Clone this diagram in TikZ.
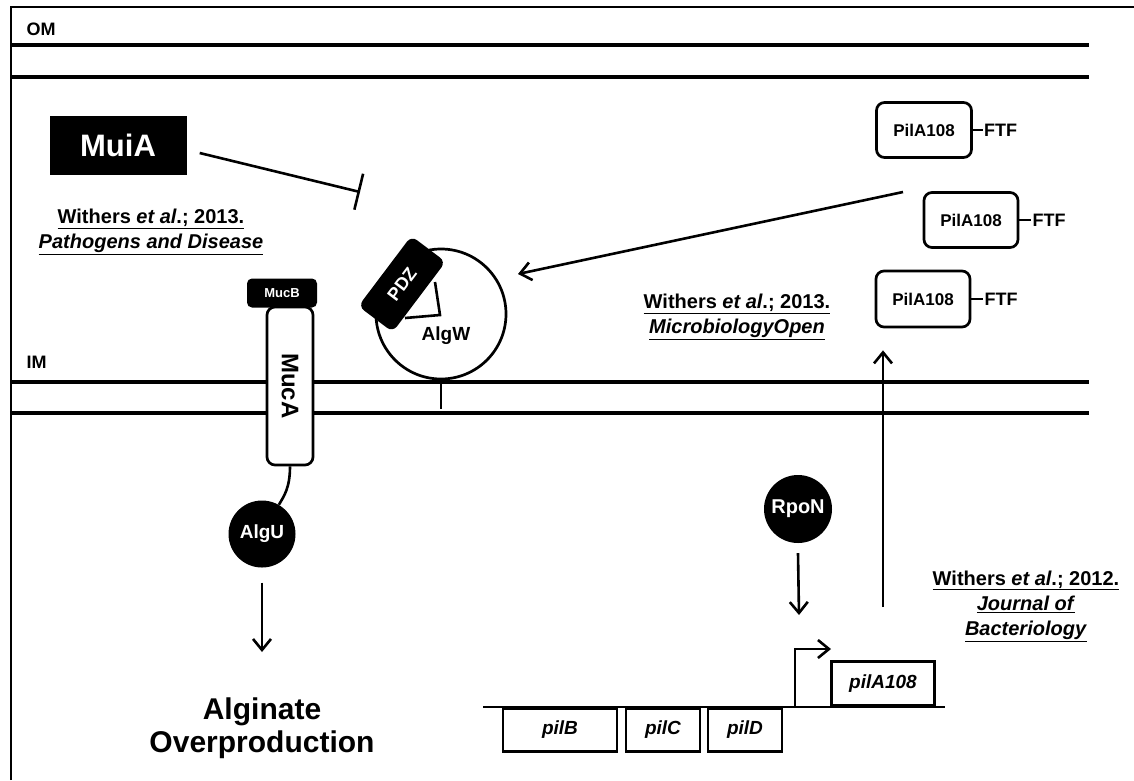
\documentclass[tikz,border=0pt]{standalone}
\usepackage{fontspec}
\setmainfont{Liberation Sans}
\usetikzlibrary{arrows.meta,positioning,calc}
\tikzset{
  membrane/.style={line width=3.2pt},
  blackbox/.style={fill=black, text=white, inner sep=0pt},
  protein/.style={draw=black, fill=white, line width=2.7pt, rounded corners=8pt, inner sep=0pt},
  gene/.style={draw=black, fill=white, line width=2.7pt, inner sep=0pt,
    minimum height=43pt, font=\fontsize{19}{22}\selectfont\bfseries\itshape},
  factor/.style={circle, fill=black, text=white, inner sep=0pt},
  act/.style={-{Straight Barb[length=11pt,width=18pt]}, line width=2.6pt},
  inhib/.style={-{Bar[width=37pt]}, line width=2.6pt},
  cite/.style={align=center, font=\fontsize{20}{25}\selectfont\bfseries},
  tag/.style={font=\fontsize{18}{20}\selectfont\bfseries, inner sep=1pt}
}
\newcommand{\membrane}[1]{\draw[membrane] (10,#1) -- (1089,#1);}

\begin{document}
\begin{tikzpicture}[x=1pt, y=-1pt]
  \useasboundingbox (0,0) rectangle (1134,780);
  % frame and membranes
  \draw[line width=2.7pt] (11,780) -- (11,7) -- (1134,7);
  \membrane{45}
  \membrane{77}
  \membrane{382}
  \membrane{413}
  \node[anchor=west, font=\fontsize{18}{20}\selectfont\bfseries] (om) at (23,29) {OM};
  \node[anchor=west, font=\fontsize{18}{20}\selectfont\bfseries] (im) at (23,362) {IM};

  % MuiA and AlgW
  \node[blackbox, minimum width=137pt, minimum height=59pt,
        font=\fontsize{31}{34}\selectfont\bfseries] (muia) at (118,145) {MuiA};
  \coordinate (muiabar) at (360,192);
  \draw[inhib] ([xshift=13pt,yshift=-8pt]muia.east) -- (muiabar);
  \node[cite] (cite1) at (151,232)
    {\underline{Withers \textit{et al}.; 2013.}\\\underline{\textit{Pathogens and Disease}}};

  \node[draw, circle, line width=2.7pt, minimum size=130pt, inner sep=0pt] (algw) at (441,314) {};
  \draw[line width=2.6pt] (435,282) -- (440,315) -- (405,318);
  \node[blackbox, rounded corners=7pt, minimum width=88pt, minimum height=43pt, rotate=53,
        font=\fontsize{18}{20}\selectfont\bfseries] (pdz) at (402,284) {PDZ};
  \node[font=\fontsize{19}{22}\selectfont\bfseries] (algwlab) at (446,336) {AlgW};
  \coordinate (algwfoot) at (441,409);
  \draw[line width=2.6pt] (algw.south) -- (algwfoot);

  % MucA / MucB / AlgU
  \node[protein, rotate=-90, minimum width=158pt, minimum height=46pt,
        font=\fontsize{24}{26}\selectfont\bfseries] (muca) at (290,386) {MucA};
  \node[blackbox, rounded corners=5pt, minimum width=70pt, minimum height=29pt,
        font=\fontsize{13}{15}\selectfont\bfseries] (mucb) at (282,293) {MucB};
  \node[factor, minimum size=67pt, font=\fontsize{19}{22}\selectfont\bfseries] (algu) at (262,534) {AlgU};
  \draw[line width=2.6pt] (muca.east) .. controls (290,488) and (284,496) .. (algu.60);
  \node[align=center, font=\fontsize{30}{33}\selectfont\bfseries] (alginate) at (262,728)
    {Alginate\\Overproduction};
  \coordinate (algutip) at (262,652);
  \draw[act] ([yshift=-15pt]algu.south) -- (algutip);

  % PilA108 glycosylated pilins
  \node[protein, minimum width=95pt, minimum height=55pt,
        font=\fontsize{17}{20}\selectfont\bfseries] (pila1) at (924,130) {PilA108};
  \node[protein, minimum width=94pt, minimum height=55pt,
        font=\fontsize{17}{20}\selectfont\bfseries] (pila2) at (971,220) {PilA108};
  \node[protein, minimum width=94pt, minimum height=56pt,
        font=\fontsize{17}{20}\selectfont\bfseries] (pila3) at (923,299) {PilA108};
  \node[tag, anchor=west] (ftf1) at ([xshift=10pt]pila1.east) {FTF};
  \node[tag, anchor=west] (ftf2) at ([xshift=12pt]pila2.east) {FTF};
  \node[tag, anchor=west] (ftf3) at ([xshift=12pt]pila3.east) {FTF};
  \foreach \i in {1,2,3}
    \draw[line width=2.6pt] (pila\i.east) -- (ftf\i.west);
  \coordinate (pilastart) at (903,192);
  \coordinate (algwtip) at (518,274);
  \draw[act] (pilastart) -- (algwtip);
  \node[cite] (cite2) at (737,317)
    {\underline{Withers \textit{et al}.; 2013.}\\\underline{\textit{MicrobiologyOpen}}};

  % pil operon
  \node[factor, minimum size=68pt, font=\fontsize{20}{22}\selectfont\bfseries] (rpon) at (798,509) {RpoN};
  \coordinate (rpontip) at (799,615);
  \draw[act] ([yshift=-10pt]rpon.south) -- (rpontip);
  \draw[line width=2.7pt] (483,707) -- (945,707);
  \node[gene, minimum width=114pt, anchor=north] (pilb) at (560,707) {pilB};
  \node[gene, minimum width=74pt, anchor=north] (pilc) at (663,707) {pilC};
  \node[gene, minimum width=74pt, anchor=north] (pild) at (745,707) {pilD};
  \node[gene, minimum width=103pt, minimum height=44pt, anchor=south] (pilagene) at (883,707) {pilA108};
  \coordinate (prom) at (795,707);
  \coordinate (promtip) at (831,649);
  \draw[act] (prom) |- (promtip);
  \coordinate (upfoot) at (883,607);
  \draw[act, shorten >=22pt] (upfoot) -- (upfoot |- pila3.south);
  \node[cite] (cite3) at (1026,606)
    {\underline{Withers \textit{et al}.; 2012.}\\\underline{\textit{Journal of}}\\\underline{\textit{Bacteriology}}};
\end{tikzpicture}
\end{document}
